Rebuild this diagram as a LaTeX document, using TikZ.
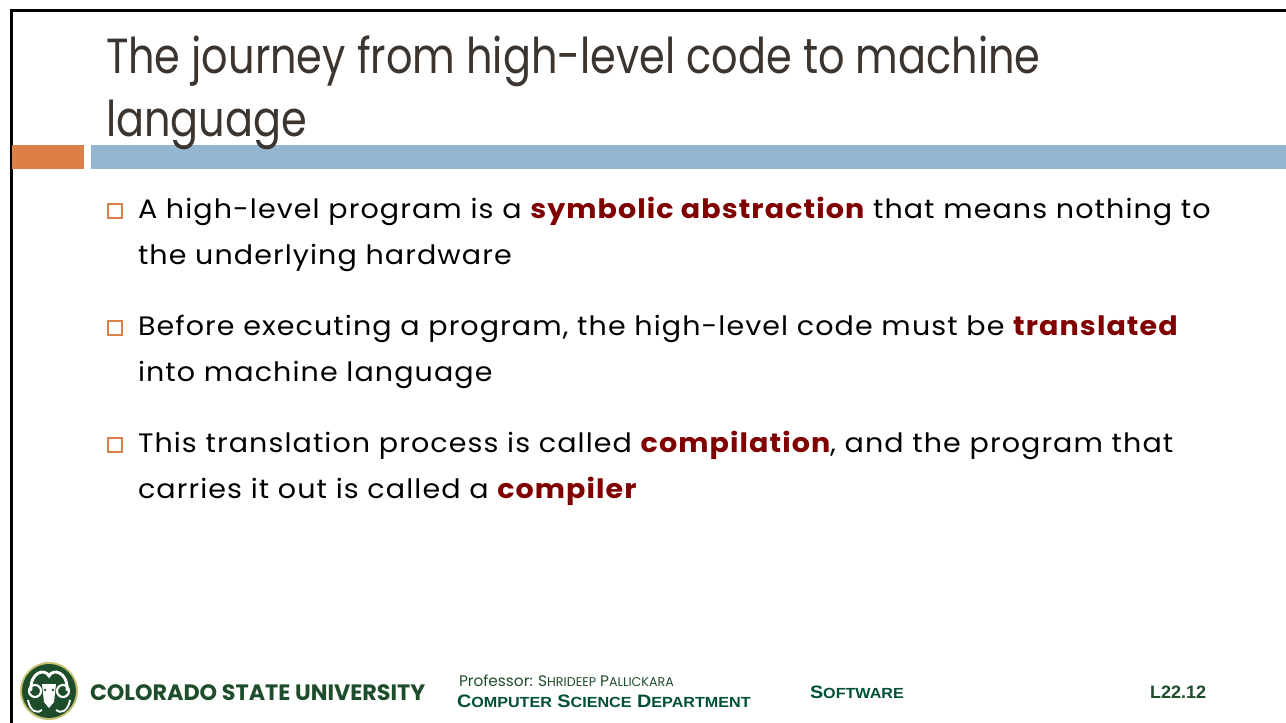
\documentclass[tikz,border=0pt]{standalone}
\usepackage{fontspec}
\setmainfont{Poppins}
\newfontfamily\titlefont[FakeStretch=0.84]{Poppins}
\newfontfamily\bodyfont[FakeStretch=1.07,LetterSpace=4.1]{Poppins}
\newfontfamily\arialf{Liberation Sans}
\newfontfamily\arialw[FakeStretch=1.1]{Liberation Sans}
\definecolor{titlecol}{RGB}{60,52,46}
\definecolor{hlred}{RGB}{128,0,0}
\definecolor{orangebar}{RGB}{221,128,71}
\definecolor{bluebar}{RGB}{148,182,210}
\definecolor{csugreen}{RGB}{30,77,43}
\definecolor{deptgreen}{RGB}{0,80,55}
\definecolor{csugold}{RGB}{200,195,114}
\newcommand{\hl}[1]{{\bfseries\color{hlred}#1}}
\newcommand{\psc}[2]{#1{\fontsize{9.5}{10}\selectfont #2}}
\newcommand{\dsc}[2]{#1{\fontsize{11}{12}\selectfont #2}}
\tikzset{
  txt/.style={anchor=base west,inner sep=0pt,outer sep=0pt},
  titletxt/.style={txt,font=\titlefont\fontsize{37}{40}\selectfont,text=titlecol},
  bodytxt/.style={txt,font=\bodyfont\fontsize{20}{24}\selectfont,text=black},
  bulletbox/.style={draw=orangebar,line width=1.1pt,minimum size=10.5pt,inner sep=0pt,anchor=center},
  foot/.style={txt,text=csugreen}
}
\begin{document}
\begin{tikzpicture}[x=0.75pt,y=-0.75pt]
\useasboundingbox (0,0) rectangle (1286,723);
\fill[white] (0,0) rectangle (1286,723);
\draw[line width=2.25pt] (11,723) -- (11,11) -- (1286,11);
\fill[orangebar] (12,145) rectangle (84,169);
\fill[bluebar] (91,145) rectangle (1286,169);
% title
\node[titletxt] (t1) at (106,74) {The journey from high-level code to machine};
\node[titletxt] (t2) at (106,137) {language};
% bullets
\node[bulletbox] (b1) at (115,211) {};
\node[bodytxt] (l1a) at (138,219) {A high-level program is a \hl{symbolic abstraction} that means nothing to};
\node[bodytxt] (l1b) at (138,265) {the underlying hardware};
\node[bulletbox] (b2) at (115,328) {};
\node[bodytxt] (l2a) at (138,336) {Before executing a program, the high-level code must be \hl{translated}};
\node[bodytxt] (l2b) at (138,382) {into machine language};
\node[bulletbox] (b3) at (115,445) {};
\node[bodytxt] (l3a) at (138,453) {This translation process is called \hl{compilation}, and the program that};
\node[bodytxt] (l3b) at (138,499) {carries it out is called a \hl{compiler}};
% logo
\fill[csugold] (49,691) circle (29);
\fill[csugreen] (49,691) circle (27);
\draw[white,line width=2.2pt,line cap=round] (31,690) .. controls (30,672) and (45,668) .. (49,676) .. controls (53,668) and (68,672) .. (67,690);
\draw[white,line width=1.6pt] (35,691) circle (6);
\draw[white,line width=1.6pt] (63,691) circle (6);
\fill[white] (42,684) -- (56,684) -- (54,702) -- (49,708) -- (44,702) -- cycle;
\fill[csugreen] (45,690) circle (1.3) (53,690) circle (1.3);
\draw[white,line width=1.4pt] (28,700) .. controls (30,712) and (38,714) .. (42,710);
\draw[white,line width=1.4pt] (70,700) .. controls (68,712) and (60,714) .. (56,710);
% footer
\node[foot,font=\bfseries\fontsize{16.7}{20}\selectfont,text=csugreen] (csu) at (90,700) {COLORADO STATE UNIVERSITY};
\node[foot,font=\fontsize{11.5}{13}\selectfont] (prof) at (459,686) {Professor: \psc{S}{HRIDEEP} \psc{P}{ALLICKARA}};
\node[foot,font=\arialw\bfseries\fontsize{13.5}{15}\selectfont,text=deptgreen] (dept) at (457,707) {\dsc{C}{OMPUTER} \dsc{S}{CIENCE} \dsc{D}{EPARTMENT}};
\node[foot,font=\arialw\bfseries\fontsize{13.5}{15}\selectfont,text=deptgreen] (sw) at (810,698) {\dsc{S}{OFTWARE}};
\node[foot,font=\arialf\bfseries\fontsize{13.5}{15}\selectfont,text=csugreen] (pg) at (1150,698) {L22.12};
\end{tikzpicture}
\end{document}
